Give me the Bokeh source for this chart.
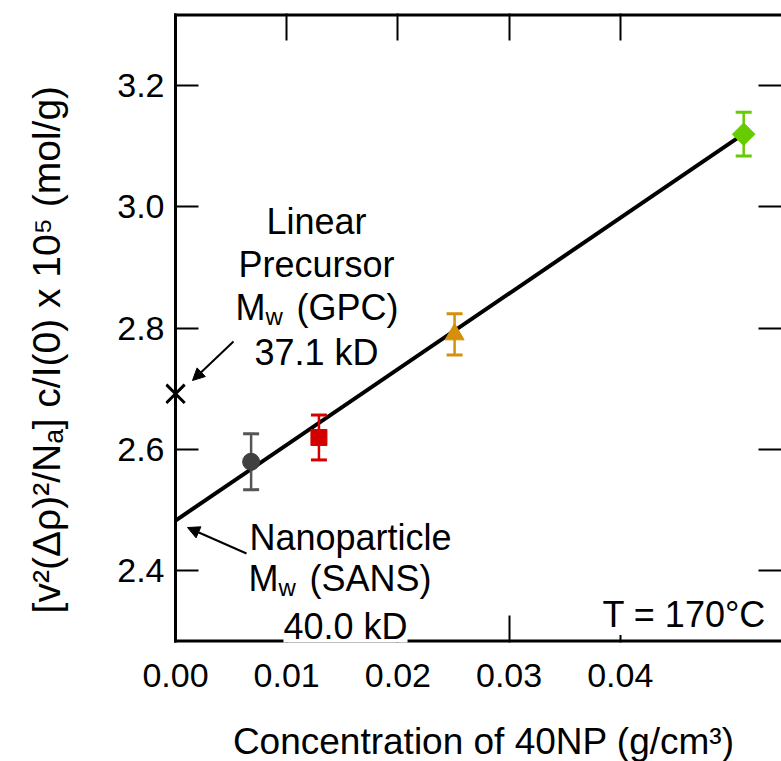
import math
from bokeh.plotting import figure
from bokeh.models import Range1d, LinearAxis, FixedTicker, NumeralTickFormatter, Label, Arrow, NormalHead
from bokeh.embed import file_html
from bokeh.resources import INLINE

# ---- data ----
conc = [0.0068, 0.0129, 0.0251, 0.0511]
ratio = [2.580, 2.620, 2.790, 3.120]
err = [0.046, 0.037, 0.034, 0.036]
fit_x = [0.0, 0.0505]
fit_y = [2.483, 3.113]
gpc_x = [0.0]
gpc_y = [2.692]
x_ticks = [0.00, 0.01, 0.02, 0.03, 0.04]
y_ticks = [2.4, 2.6, 2.8, 3.0, 3.2]

# ---- styles ----
mk = ["circle", "square", "triangle", "square"]
mk_angle = [0, 0, 0, math.pi / 4]
mk_size = [17, 16, 19, 16]
mk_color = ["#404040", "#d40000", "#d4900a", "#66cc00"]
eb_color = ["#555555", "#d40000", "#d4900a", "#66cc00"]

FONT = "Liberation Sans"
NB = "\u00a0"

# visible box: x 0 .. XMAX (175px .. 781px), y YMIN .. YMAX (642px .. 13px)
XMAX = 0.0545
YMIN, YMAX = 2.282, 3.319
AX_PX = 175                      # pixel column of x = 0
PXX = XMAX / (781 - AX_PX)       # data per pixel in x
PXY = (YMAX - YMIN) / 629        # data per pixel in y
PAD = 10                         # frame extends this far left of x = 0
X0 = -PAD * PXX

p = figure(width=781, height=761, output_backend="svg", toolbar_location=None,
           x_range=Range1d(X0, XMAX), y_range=Range1d(YMIN, YMAX),
           frame_width=606 + PAD, frame_height=629,
           min_border_left=AX_PX - PAD, min_border_right=0, min_border_top=13, min_border_bottom=119,
           x_axis_location=None, y_axis_location=None)
p.grid.visible = False
p.outline_line_color = None
p.background_fill_color = "white"
p.border_fill_color = "white"

def dx(px):
    return (px - AX_PX) * PXX
def dy(py):
    return YMAX - (py - 13) * PXY

def style_axis(ax, tick_in, labels=True):
    ax.axis_line_width = 3
    ax.axis_line_color = "black"
    ax.major_tick_line_width = 2
    ax.major_tick_line_color = "black"
    ax.major_tick_in = tick_in
    ax.major_tick_out = 0
    ax.minor_tick_line_color = None
    ax.major_label_text_font = FONT
    ax.major_label_text_color = "black"
    ax.axis_label_text_font = FONT
    ax.axis_label_text_font_style = "normal"
    ax.axis_label_text_color = "black"
    if labels:
        ax.major_label_text_font_size = "34px"
    else:
        ax.major_label_text_font_size = "1px"
        ax.major_label_text_color = None
        ax.major_label_standoff = 0

xb = LinearAxis(ticker=FixedTicker(ticks=x_ticks), formatter=NumeralTickFormatter(format="0.00"))
style_axis(xb, 27)
xb.axis_line_color = None
xb.major_label_standoff = 21
xb.axis_label = NB * 2 + "Concentration of 40NP (g/cm³)"
xb.axis_label_text_font_size = "37px"
xb.axis_label_standoff = 31
p.add_layout(xb, "below")

xt = LinearAxis(ticker=FixedTicker(ticks=x_ticks))
style_axis(xt, 27, labels=False)
xt.axis_line_color = None
p.add_layout(xt, "above")

# left axis: labels and title (at the frame edge), no line/ticks
yl = LinearAxis(ticker=FixedTicker(ticks=y_ticks), formatter=NumeralTickFormatter(format="0.0"))
style_axis(yl, 0)
yl.axis_line_color = None
yl.major_tick_line_color = None
yl.major_label_standoff = 1
yl.axis_label = "[v²(Δρ)²/Nₐ] c/I(0) x 10⁵ (mol/g)" + NB * 4
yl.axis_label_text_font_size = "39px"
yl.axis_label_standoff = 46
p.add_layout(yl, "left")

# left axis line and ticks at x = 0
yl2 = LinearAxis(ticker=FixedTicker(ticks=y_ticks), fixed_location=0)
style_axis(yl2, 23, labels=False)
p.add_layout(yl2, "left")

yr = LinearAxis(ticker=FixedTicker(ticks=y_ticks))
style_axis(yr, 23, labels=False)
yr.axis_line_color = None
p.add_layout(yr, "right")

# top and bottom edges of the box (half of each lies outside the frame)
p.line([-1.5 * PXX, XMAX], [YMAX, YMAX], line_color="black", line_width=6)
p.line([-1.5 * PXX, XMAX], [YMIN, YMIN], line_color="black", line_width=6)

# ---- fit line ----
p.line(fit_x, fit_y, line_color="black", line_width=4)

# ---- error bars and points ----
for i in range(len(conc)):
    lo = ratio[i] - err[i]
    hi = ratio[i] + err[i]
    p.segment(x0=[conc[i]], y0=[lo], x1=[conc[i]], y1=[hi], line_color=eb_color[i], line_width=2.5)
    p.scatter(x=[conc[i], conc[i]], y=[lo, hi], marker="dash", size=16,
              line_color=eb_color[i], line_width=3)
    p.scatter(x=[conc[i]], y=[ratio[i]], marker=mk[i], size=mk_size[i], angle=mk_angle[i],
              fill_color=mk_color[i], line_color=mk_color[i], line_width=1)

# GPC value marker
p.scatter(gpc_x, gpc_y, marker="x", size=26, line_color="black", line_width=3)

# ---- annotations ----
def lab(text, px, py, size=36, align="center", bg=False):
    l = Label(x=dx(px), y=dy(py), text=text, text_font=FONT, text_font_size=f"{size}px",
              text_align=align, text_baseline="alphabetic", text_color="black")
    if bg:
        l.background_fill_color = "white"
    p.add_layout(l)

# Linear precursor
lab("Linear", 316, 221, bg=True)
lab("Precursor", 316, 264, bg=True)
lab("M", 235, 307, align="left", bg=True)
lab("w", 265, 316, size=24, align="left")
lab("(GPC)", 296, 307, align="left", bg=True)
lab("37.1 kD", 316, 352, bg=True)

# Nanoparticle
lab("Nanoparticle", 350, 537, bg=True)
lab("M", 248, 578, align="left", bg=True)
lab("w", 278, 587, size=24, align="left")
lab("(SANS)", 309, 578, align="left", bg=True)
lab("40.0 kD", 345, 626, bg=True)

lab("T = 170°C", 602, 614, align="left", bg=True)

# arrows
p.add_layout(Arrow(x_start=dx(233), y_start=dy(341), x_end=dx(192), y_end=dy(380),
                   line_width=2, line_color="black",
                   end=NormalHead(size=12, fill_color="black", line_color="black", line_width=1)))
p.add_layout(Arrow(x_start=dx(246), y_start=dy(553), x_end=dx(187), y_end=dy(527),
                   line_width=2, line_color="black",
                   end=NormalHead(size=12, fill_color="black", line_color="black", line_width=1)))

open("out.html", "w").write(file_html(p, INLINE))
